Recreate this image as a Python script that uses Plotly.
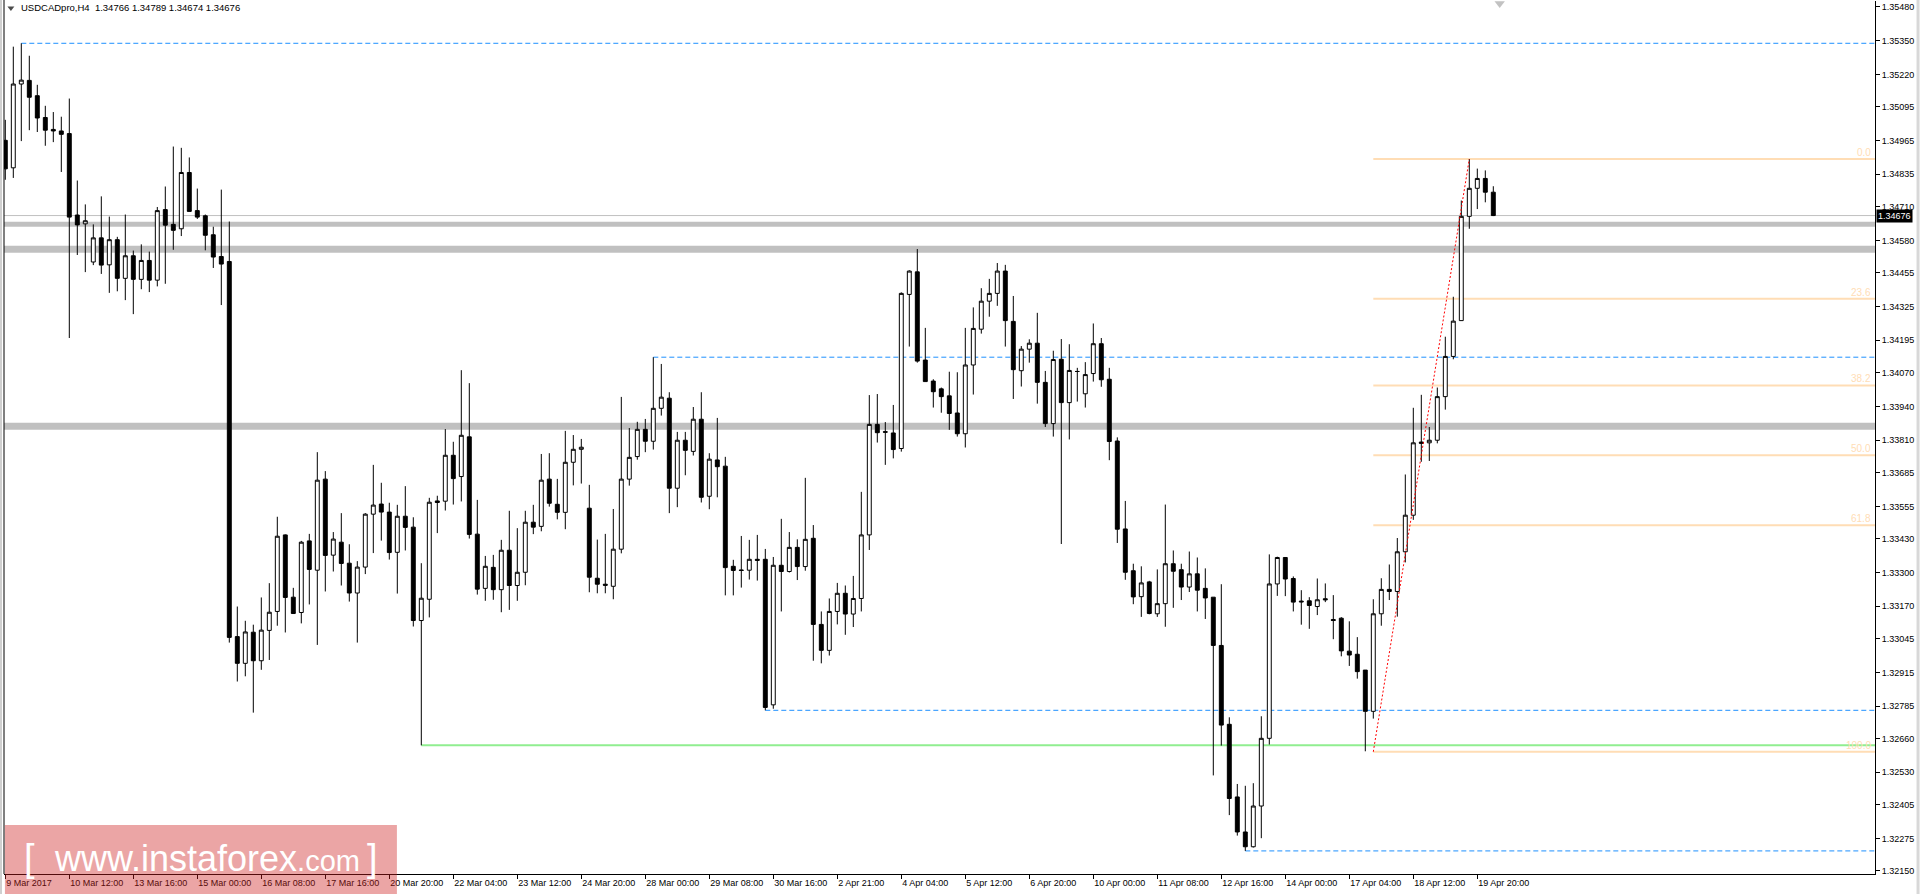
import plotly.graph_objects as go

# ---------------- data (USDCADpro, H4) ----------------
opens = [
    1.34966, 1.34860, 1.35183, 1.35197, 1.35138, 1.35054, 1.35008, 1.35002, 1.34992, 1.34678,
    1.34644, 1.34497, 1.34590, 1.34486, 1.34583, 1.34434, 1.34521, 1.34430, 1.34503, 1.34427,
    1.34699, 1.34642, 1.34625, 1.34842, 1.34695, 1.34675, 1.34602, 1.34518, 1.34499, 1.33053,
    1.32950, 1.33070, 1.32960, 1.33077, 1.33150, 1.33445, 1.33205, 1.33146, 1.33422, 1.33309,
    1.33660, 1.33367, 1.33417, 1.33336, 1.33221, 1.33321, 1.33525, 1.33564, 1.33533, 1.33378,
    1.33517, 1.33475, 1.33115, 1.33197, 1.33576, 1.33575, 1.33752, 1.33670, 1.33823, 1.33448,
    1.33239, 1.33320, 1.33234, 1.33386, 1.33250, 1.33301, 1.33494, 1.33478, 1.33660, 1.33563,
    1.33532, 1.33725, 1.33775, 1.33548, 1.33278, 1.33255, 1.33247, 1.33390, 1.33660, 1.33747,
    1.33852, 1.33806, 1.33933, 1.33972, 1.33625, 1.33810, 1.33767, 1.33891, 1.33594, 1.33734,
    1.33710, 1.33324, 1.33310, 1.33309, 1.33351, 1.33351, 1.32790, 1.33328, 1.33304, 1.33397,
    1.33323, 1.33432, 1.33100, 1.33000, 1.33150, 1.33220, 1.33140, 1.33200, 1.33445, 1.33871,
    1.33843, 1.33838, 1.33778, 1.34372, 1.34459, 1.34119, 1.34038, 1.34008, 1.33981, 1.33915,
    1.33835, 1.34100, 1.34238, 1.34346, 1.34376, 1.34462, 1.34268, 1.34078, 1.34161, 1.34184,
    1.34033, 1.33874, 1.34122, 1.33955, 1.34075, 1.33989, 1.34067, 1.34182, 1.34045, 1.33807,
    1.33468, 1.33307, 1.33207, 1.33264, 1.33141, 1.33180, 1.33334, 1.33311, 1.33244, 1.33295,
    1.33239, 1.33205, 1.33019, 1.32715, 1.32435, 1.32300, 1.32243, 1.32400, 1.32661, 1.33256,
    1.33358, 1.33277, 1.33190, 1.33191, 1.33169, 1.33199, 1.33119, 1.33124, 1.32997, 1.32985,
    1.32924, 1.32765, 1.33141, 1.33235, 1.33227, 1.33380, 1.33521, 1.33803, 1.33800, 1.33810,
    1.33978, 1.34133, 1.34271, 1.34673, 1.34781, 1.34819, 1.34766,
]
highs = [
    1.35045, 1.35327, 1.35340, 1.35292, 1.35180, 1.35099, 1.35075, 1.35057, 1.35127, 1.34811,
    1.34719, 1.34642, 1.34750, 1.34672, 1.34594, 1.34680, 1.34541, 1.34565, 1.34537, 1.34709,
    1.34788, 1.34942, 1.34937, 1.34900, 1.34780, 1.34680, 1.34633, 1.34776, 1.34653, 1.33169,
    1.33114, 1.33099, 1.33204, 1.33259, 1.33515, 1.33447, 1.33241, 1.33422, 1.33449, 1.33764,
    1.33691, 1.33456, 1.33529, 1.33409, 1.33344, 1.33529, 1.33715, 1.33646, 1.33569, 1.33561,
    1.33633, 1.33513, 1.33336, 1.33588, 1.33596, 1.33853, 1.33804, 1.34080, 1.34030, 1.33580,
    1.33364, 1.33368, 1.33426, 1.33538, 1.33471, 1.33538, 1.33561, 1.33757, 1.33760, 1.33661,
    1.33846, 1.33830, 1.33815, 1.33638, 1.33427, 1.33449, 1.33545, 1.33977, 1.33857, 1.33881,
    1.33892, 1.34130, 1.34104, 1.33995, 1.33842, 1.33842, 1.33938, 1.33995, 1.33760, 1.33896,
    1.33746, 1.33349, 1.33441, 1.33426, 1.33445, 1.33391, 1.33360, 1.33507, 1.33456, 1.33428,
    1.33665, 1.33483, 1.33150, 1.33200, 1.33260, 1.33250, 1.33287, 1.33611, 1.33984, 1.33988,
    1.33880, 1.33946, 1.34380, 1.34465, 1.34547, 1.34243, 1.34045, 1.34013, 1.34074, 1.34072,
    1.34243, 1.34322, 1.34396, 1.34432, 1.34493, 1.34486, 1.34366, 1.34173, 1.34199, 1.34301,
    1.34077, 1.34155, 1.34200, 1.34180, 1.34089, 1.34111, 1.34260, 1.34204, 1.34089, 1.33821,
    1.33576, 1.33334, 1.33324, 1.33268, 1.33312, 1.33562, 1.33385, 1.33334, 1.33381, 1.33358,
    1.33316, 1.33205, 1.33255, 1.32742, 1.32485, 1.32478, 1.32488, 1.32746, 1.33370, 1.33361,
    1.33358, 1.33285, 1.33232, 1.33205, 1.33277, 1.33258, 1.33213, 1.33128, 1.33112, 1.33051,
    1.32924, 1.33197, 1.33278, 1.33331, 1.33433, 1.33678, 1.33935, 1.33985, 1.33861, 1.34013,
    1.34209, 1.34363, 1.34734, 1.34894, 1.34857, 1.34850, 1.34789,
]
lows = [
    1.34814, 1.34821, 1.34963, 1.35005, 1.34998, 1.34945, 1.34959, 1.34844, 1.34204, 1.34524,
    1.34458, 1.34485, 1.34451, 1.34378, 1.34384, 1.34350, 1.34296, 1.34392, 1.34381, 1.34403,
    1.34413, 1.34544, 1.34597, 1.34692, 1.34663, 1.34542, 1.34474, 1.34331, 1.33030, 1.32880,
    1.32900, 1.32760, 1.32925, 1.32963, 1.33095, 1.33069, 1.33142, 1.33104, 1.33177, 1.33021,
    1.33227, 1.33304, 1.33250, 1.33188, 1.33030, 1.33294, 1.33375, 1.33423, 1.33350, 1.33219,
    1.33385, 1.33092, 1.32634, 1.33127, 1.33452, 1.33539, 1.33562, 1.33574, 1.33431, 1.33215,
    1.33191, 1.33195, 1.33147, 1.33156, 1.33191, 1.33251, 1.33448, 1.33459, 1.33554, 1.33505,
    1.33467, 1.33636, 1.33643, 1.33224, 1.33220, 1.33220, 1.33197, 1.33374, 1.33635, 1.33735,
    1.33764, 1.33774, 1.33905, 1.33529, 1.33552, 1.33675, 1.33751, 1.33570, 1.33544, 1.33590,
    1.33212, 1.33212, 1.33242, 1.33273, 1.33269, 1.32769, 1.32775, 1.33150, 1.33300, 1.33271,
    1.33307, 1.32960, 1.32950, 1.32980, 1.33100, 1.33060, 1.33090, 1.33150, 1.33387, 1.33801,
    1.33715, 1.33740, 1.33766, 1.34171, 1.34109, 1.34036, 1.33936, 1.33916, 1.33850, 1.33824,
    1.33782, 1.33986, 1.34221, 1.34286, 1.34328, 1.34171, 1.33969, 1.34017, 1.34109, 1.33951,
    1.33861, 1.33824, 1.33410, 1.33813, 1.33959, 1.33936, 1.34036, 1.34016, 1.33733, 1.33414,
    1.33272, 1.33178, 1.33129, 1.33139, 1.33129, 1.33091, 1.33164, 1.33194, 1.33225, 1.33150,
    1.33121, 1.32518, 1.32633, 1.32365, 1.32286, 1.32227, 1.32240, 1.32276, 1.32637, 1.33210,
    1.33209, 1.33150, 1.33099, 1.33083, 1.33136, 1.33186, 1.33043, 1.32977, 1.32940, 1.32891,
    1.32611, 1.32737, 1.33095, 1.33194, 1.33130, 1.33339, 1.33503, 1.33727, 1.33730, 1.33798,
    1.33928, 1.34122, 1.34271, 1.34625, 1.34701, 1.34727, 1.34674,
]
closes = [
    1.34856, 1.35183, 1.35198, 1.35132, 1.35052, 1.35005, 1.35002, 1.34989, 1.34670, 1.34640,
    1.34656, 1.34590, 1.34485, 1.34583, 1.34434, 1.34521, 1.34430, 1.34503, 1.34427, 1.34695,
    1.34639, 1.34619, 1.34842, 1.34692, 1.34670, 1.34600, 1.34516, 1.34489, 1.33050, 1.32950,
    1.33071, 1.32960, 1.33078, 1.33147, 1.33440, 1.33204, 1.33142, 1.33417, 1.33312, 1.33656,
    1.33366, 1.33429, 1.33335, 1.33221, 1.33321, 1.33525, 1.33560, 1.33533, 1.33377, 1.33517,
    1.33474, 1.33115, 1.33201, 1.33571, 1.33570, 1.33752, 1.33662, 1.33829, 1.33447, 1.33236,
    1.33324, 1.33234, 1.33386, 1.33250, 1.33301, 1.33494, 1.33475, 1.33656, 1.33567, 1.33532,
    1.33725, 1.33775, 1.33783, 1.33282, 1.33255, 1.33251, 1.33390, 1.33660, 1.33744, 1.33852,
    1.33806, 1.33933, 1.33976, 1.33625, 1.33810, 1.33771, 1.33891, 1.33590, 1.33737, 1.33708,
    1.33319, 1.33308, 1.33308, 1.33351, 1.33347, 1.32780, 1.33328, 1.33304, 1.33397, 1.33323,
    1.33428, 1.33100, 1.33000, 1.33150, 1.33220, 1.33140, 1.33200, 1.33445, 1.33871, 1.33839,
    1.33841, 1.33774, 1.34376, 1.34462, 1.34115, 1.34036, 1.33997, 1.33978, 1.33913, 1.33835,
    1.34100, 1.34241, 1.34346, 1.34376, 1.34462, 1.34271, 1.34082, 1.34161, 1.34184, 1.34033,
    1.33874, 1.34121, 1.33955, 1.34079, 1.34075, 1.34063, 1.34182, 1.34043, 1.33805, 1.33467,
    1.33301, 1.33206, 1.33260, 1.33142, 1.33180, 1.33334, 1.33305, 1.33244, 1.33295, 1.33232,
    1.33202, 1.33019, 1.32712, 1.32429, 1.32300, 1.32243, 1.32400, 1.32661, 1.33256, 1.33358,
    1.33275, 1.33186, 1.33187, 1.33173, 1.33195, 1.33195, 1.33115, 1.32998, 1.32982, 1.32918,
    1.32765, 1.33141, 1.33235, 1.33227, 1.33380, 1.33521, 1.33800, 1.33798, 1.33810, 1.33978,
    1.34133, 1.34269, 1.34673, 1.34781, 1.34819, 1.34766, 1.34676,
]

x_labels = ["9 Mar 2017", "10 Mar 12:00", "13 Mar 16:00", "15 Mar 00:00", "16 Mar 08:00",
            "17 Mar 16:00", "20 Mar 20:00", "22 Mar 04:00", "23 Mar 12:00", "24 Mar 20:00",
            "28 Mar 00:00", "29 Mar 08:00", "30 Mar 16:00", "2 Apr 21:00", "4 Apr 04:00",
            "5 Apr 12:00", "6 Apr 20:00", "10 Apr 00:00", "11 Apr 08:00", "12 Apr 16:00",
            "14 Apr 00:00", "17 Apr 04:00", "18 Apr 12:00", "19 Apr 20:00"]
bars_per_label = 8

y_ticks = [1.35480, 1.35350, 1.35220, 1.35095, 1.34965, 1.34835, 1.34710, 1.34580, 1.34455,
           1.34325, 1.34195, 1.34070, 1.33940, 1.33810, 1.33685, 1.33555, 1.33430, 1.33300,
           1.33170, 1.33045, 1.32915, 1.32785, 1.32660, 1.32530, 1.32405, 1.32275, 1.32150]

header = "USDCADpro,H4\u00a0\u00a01.34766 1.34789 1.34674 1.34676"
last_price = 1.34676

gray_band_prices = [1.34642, 1.34546, 1.33864]
blue_line_starts = [2, 81, 95, 155]
blue_line_prices = [1.35340, 1.34130, 1.32769, 1.32227]
green_line_start = 52
green_line_price = 1.32634

fib_start_bar = 171
fib_end_bar = 183
fib_names = ["0.0", "23.6", "38.2", "50.0", "61.8", "100.0"]
fib_prices = [1.34894, 1.34355, 1.34021, 1.33752, 1.33482, 1.32609]

# ---------------- figure ----------------
X_RANGE = [-0.1625, 233.7125]
Y_RANGE = [1.32138, 1.35503]
FIB_COLOR = "#FFDDB5"
FONT = "Liberation Sans, Arial, sans-serif"

x = list(range(len(opens)))

fig = go.Figure()
fig.add_trace(go.Candlestick(
    x=x, open=opens, high=highs, low=lows, close=closes,
    increasing=dict(line=dict(color="black", width=1), fillcolor="white"),
    decreasing=dict(line=dict(color="black", width=1), fillcolor="black"),
    whiskerwidth=0, showlegend=False, hoverinfo="skip",
))

# red dotted trend line of the fibonacci tool
fig.add_trace(go.Scatter(
    x=[fib_start_bar, fib_end_bar], y=[fib_prices[-1], fib_prices[0]],
    mode="lines", line=dict(color="red", width=1, dash="2px,2px"),
    showlegend=False, hoverinfo="skip",
))

# header triangle and chart-shift marker
fig.add_trace(go.Scatter(
    x=[0.7, 186.8], y=[1.35476, 1.35493], mode="markers",
    marker=dict(symbol="triangle-down", size=[6, 9], color=["black", "#A8A8A8"], line=dict(width=0)),
    cliponaxis=False, showlegend=False, hoverinfo="skip",
))

shapes = []
for p, w in zip(gray_band_prices, [5, 7, 7]):
    shapes.append(dict(type="line", xref="paper", yref="y", x0=0, x1=1, y0=p, y1=p,
                       line=dict(color="#C0C0C0", width=w), layer="below"))
shapes.append(dict(type="line", xref="paper", yref="y", x0=0, x1=1, y0=last_price, y1=last_price,
                   line=dict(color="#C0C0C0", width=1), layer="below"))
for s, p in zip(blue_line_starts, blue_line_prices):
    shapes.append(dict(type="line", xref="x", yref="y", x0=s, x1=X_RANGE[1], y0=p, y1=p,
                       line=dict(color="#1E90FF", width=1, dash="5px,3px"), layer="below"))
shapes.append(dict(type="line", xref="x", yref="y", x0=green_line_start, x1=X_RANGE[1],
                   y0=green_line_price, y1=green_line_price,
                   line=dict(color="#90EE90", width=2), layer="below"))
for p in fib_prices:
    shapes.append(dict(type="line", xref="x", yref="y", x0=fib_start_bar, x1=X_RANGE[1], y0=p, y1=p,
                       line=dict(color=FIB_COLOR, width=2), layer="below"))
# frame lines on the left and right edge
shapes.append(dict(type="line", xref="paper", yref="paper", x0=0, x1=0, y0=0, y1=1.0012,
                   line=dict(color="black", width=1)))
shapes.append(dict(type="line", xref="paper", yref="paper", x0=-0.0016, x1=-0.0016, y0=-0.03, y1=1.0012,
                   line=dict(color="#A0A0A0", width=1)))
shapes.append(dict(type="line", xref="paper", yref="paper", x0=1.0230, x1=1.0230, y0=-0.03, y1=1.0012,
                   line=dict(color="#D8D8D8", width=3)))
# watermark box
shapes.append(dict(type="rect", xref="paper", yref="paper", x0=0.0005, x1=0.2100, y0=-0.0229, y1=0.0561,
                   fillcolor="rgba(205,30,30,0.4)", line=dict(width=0), layer="above"))

annotations = []
annotations.append(dict(xref="paper", yref="paper", x=0.0080, y=0.9920, xanchor="left", yanchor="middle",
                        text=header, showarrow=False,
                        font=dict(family=FONT, size=9.5, color="black")))
annotations.append(dict(xref="paper", yref="y", x=1, y=last_price, xanchor="left", yanchor="middle",
                        xshift=1, text=f"{last_price:.5f}", showarrow=False, bgcolor="black", borderpad=1,
                        font=dict(family=FONT, size=9, color="white")))
for name, p in zip(fib_names, fib_prices):
    annotations.append(dict(xref="paper", yref="y", x=1, y=p, xanchor="right", yanchor="bottom",
                            xshift=-2, yshift=-1, text=name, showarrow=False,
                            font=dict(family=FONT, size=10, color=FIB_COLOR)))
wm_font = dict(family=FONT, color="white")
annotations.append(dict(xref="paper", yref="paper", x=0.0134, y=0.0183, xanchor="center", yanchor="middle",
                        text="[", showarrow=False, font=dict(size=38, **wm_font)))
annotations.append(dict(xref="paper", yref="paper", x=0.0255, y=0.0183, xanchor="left", yanchor="middle",
                        text="www.instaforex<span style='font-size:29px'>.com</span>", showarrow=False,
                        font=dict(size=36, **wm_font)))
annotations.append(dict(xref="paper", yref="paper", x=0.1968, y=0.0183, xanchor="center", yanchor="middle",
                        text="]", showarrow=False, font=dict(size=38, **wm_font)))

fig.update_layout(
    width=1920, height=894,
    margin=dict(l=4, r=45, t=1, b=20, pad=0),
    paper_bgcolor="white", plot_bgcolor="white",
    showlegend=False,
    font=dict(family=FONT, size=9, color="black"),
    xaxis=dict(
        range=X_RANGE, showgrid=False, zeroline=False, showline=True, linecolor="black", linewidth=1,
        tickmode="array", tickvals=[i * bars_per_label for i in range(len(x_labels))], ticktext=x_labels,
        ticks="outside", ticklen=4, tickcolor="black", ticklabelposition="outside right",
        rangeslider=dict(visible=False), fixedrange=True,
    ),
    yaxis=dict(
        side="right", range=Y_RANGE, showgrid=False, zeroline=False, showline=True,
        linecolor="black", linewidth=1, tickmode="array", tickvals=y_ticks, tickformat=".5f",
        ticks="outside", ticklen=4, tickcolor="black", fixedrange=True,
    ),
    shapes=shapes,
    annotations=annotations,
)

fig.write_html("out.html", config={"displayModeBar": False},
               post_script="document.body.style.margin='0';document.body.style.overflow='hidden';")
